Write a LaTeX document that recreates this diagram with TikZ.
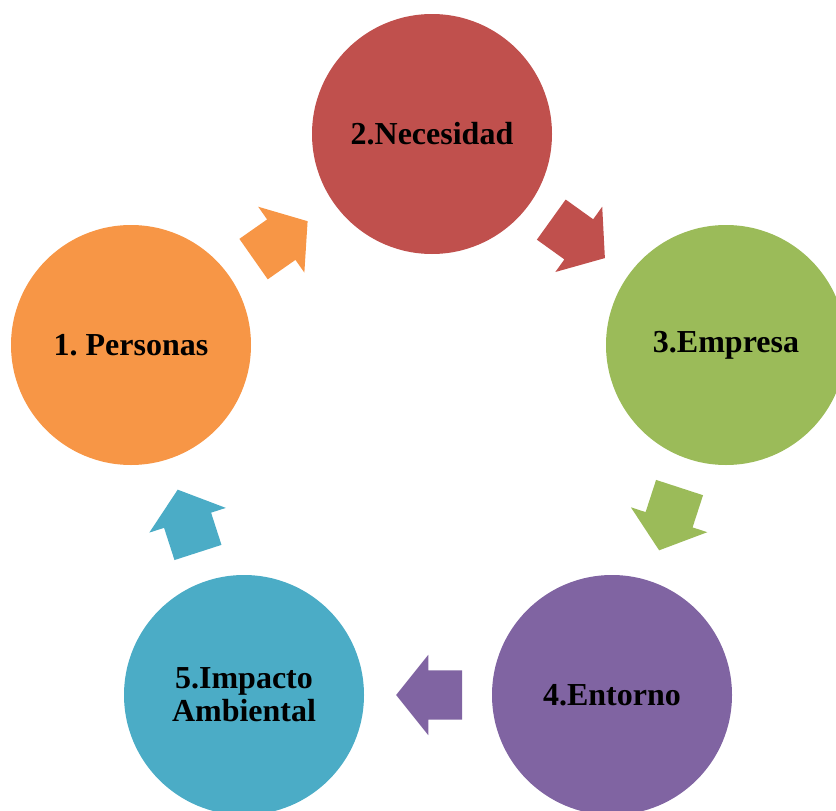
\documentclass[tikz,border=0pt]{standalone}
\usepackage{fontspec}
\setmainfont{Liberation Serif}
\usepackage{tikz}
\usetikzlibrary{calc}
\usetikzlibrary{shapes.arrows}
\definecolor{personas}{HTML}{F79646}
\definecolor{necesidad}{HTML}{C0504D}
\definecolor{empresa}{HTML}{9BBB59}
\definecolor{entorno}{HTML}{8064A2}
\definecolor{impacto}{HTML}{4BACC6}
\tikzset{
  stage/.style={circle, minimum size=240pt, inner sep=0pt, align=center,
    font=\frenchspacing\bfseries\fontsize{32}{33}\selectfont},
  cyclearrow/.style={single arrow, draw=none, inner xsep=0pt, inner ysep=24.5pt,
    minimum height=66pt, minimum width=80pt,
    single arrow head extend=15.5pt, single arrow tip angle=102.7}
}
\newcommand{\cyclestep}[3]{%
  \path let \p1=($(#2)-(#1)$), \n1={atan2(\y1,\x1)} in
    node[cyclearrow, fill=#3, rotate=\n1, xshift=-11pt] (#1-#2) at ($(#1)!0.5!(#2)$) {};}

\begin{document}
\begin{tikzpicture}[x=1pt,y=-1pt]
            \useasboundingbox (0,0) rectangle (836,811);
            \clip (0,0) rectangle (836,811);
            % Circles
            \node[stage, fill=personas] (personas) at (131,345) {1. Personas};
            \node[stage, fill=necesidad] (necesidad) at (432,134) {2.Necesidad};
            \node[stage, fill=empresa] (empresa) at (726,345) {3.Empresa};
            \node[stage, fill=entorno] (entorno) at (612,695) {4.Entorno};
            \node[stage, fill=impacto] (impacto) at (244,695) {5.Impacto\\Ambiental};
            % Arrows
            \cyclestep{personas}{necesidad}{personas}
            \cyclestep{necesidad}{empresa}{necesidad}
            \cyclestep{empresa}{entorno}{empresa}
            \cyclestep{entorno}{impacto}{entorno}
            \cyclestep{impacto}{personas}{impacto}
        \end{tikzpicture}
\end{document}
